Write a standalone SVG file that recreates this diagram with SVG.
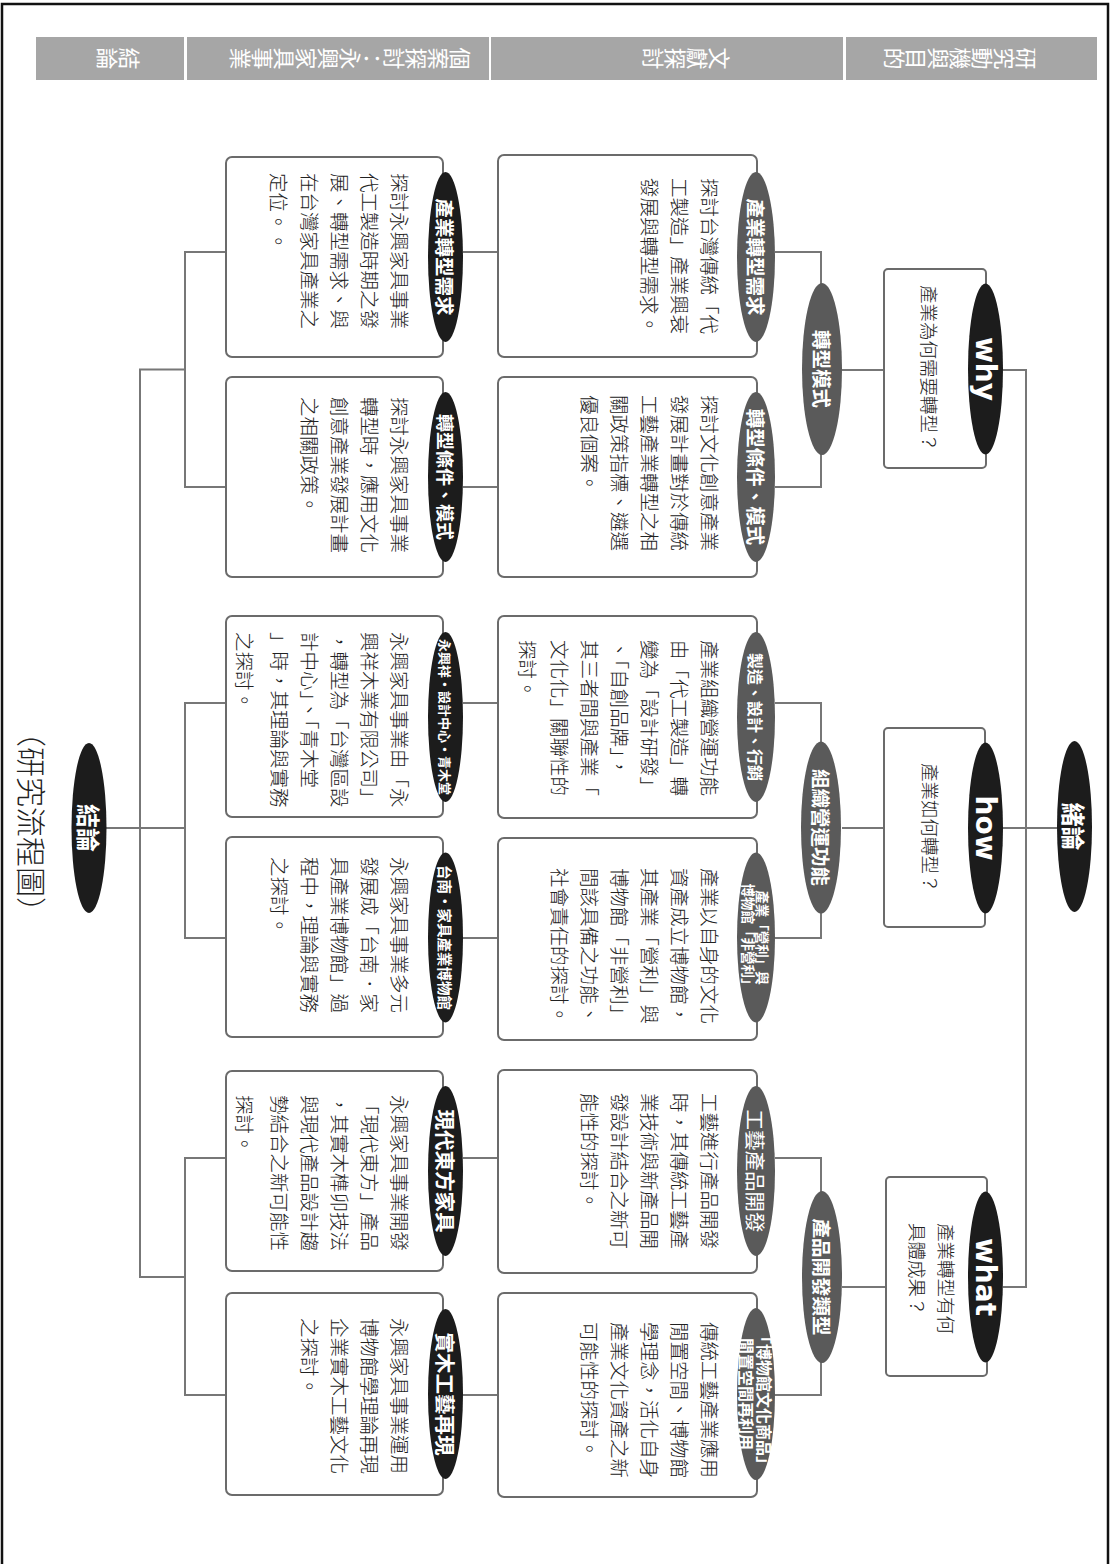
<svg xmlns="http://www.w3.org/2000/svg" width="1114" height="1564" viewBox="0 0 1114 1564">
<style>
.frame{fill:none;stroke:#111;stroke-width:2.5}
.hdr{fill:#a6a6a6}
.hd{font-family:"Noto Sans CJK TC","Noto Sans CJK SC",sans-serif;font-size:22px;fill:#fff;writing-mode:vertical-rl;text-anchor:middle}
.box{fill:#fff;stroke:#6b6b6b;stroke-width:2}
.con{fill:none;stroke:#777;stroke-width:2}
.ek{fill:#1c1c1c}
.eg{fill:#5a5a5a}
.t{font-family:"Noto Sans CJK TC","Noto Sans CJK SC",sans-serif;font-size:19.5px;font-weight:300;fill:#222;dominant-baseline:central}
.q{font-family:"Noto Sans CJK TC","Noto Sans CJK SC",sans-serif;font-size:18.5px;font-weight:300;fill:#222;dominant-baseline:central}
.et{font-family:"Noto Sans CJK TC","Noto Sans CJK SC",sans-serif;font-size:19.5px;fill:#fff;font-weight:bold;text-anchor:middle;dominant-baseline:central}
.en{font-family:"DejaVu Sans",sans-serif;font-size:28px;fill:#fff;font-weight:bold;text-anchor:middle;dominant-baseline:central}
.ttl{font-family:"Noto Sans CJK TC","Noto Sans CJK SC",sans-serif;font-size:30px;font-weight:300;fill:#222;text-anchor:middle;dominant-baseline:central}
</style>
<rect class="frame" x="2" y="4" width="1106" height="1600"/>

<g id="header">
<rect class="hdr" x="36" y="37" width="148" height="43"/>
<rect class="hdr" x="187" y="37" width="302" height="43"/>
<rect class="hdr" x="491" y="37" width="352" height="43"/>
<rect class="hdr" x="846" y="37" width="251" height="43"/>
<text class="hd" transform="translate(118,58.5) rotate(90)">結論</text>
<text class="hd" transform="translate(350,58.5) rotate(90)">個案探討：永興家具事業</text>
<text class="hd" transform="translate(686,58.5) rotate(90)">文獻探討</text>
<text class="hd" transform="translate(960,58.5) rotate(90)">研究動機與目的</text>
</g>

<g id="connectors">
<polyline class="con" points="1003,370 1026,370 1026,1287 1003,1287"/>
<line class="con" x1="1003" y1="828" x2="1057" y2="828"/>
<line class="con" x1="842" y1="370" x2="884" y2="370"/>
<line class="con" x1="842" y1="828" x2="884" y2="828"/>
<line class="con" x1="842" y1="1287" x2="886" y2="1287"/>
<polyline class="con" points="775,252 821,252 821,487 775,487"/>
<polyline class="con" points="775,703 821,703 821,938 775,938"/>
<polyline class="con" points="775,1158 821,1158 821,1395 775,1395"/>
<line class="con" x1="463" y1="252" x2="498" y2="252"/>
<line class="con" x1="463" y1="487" x2="498" y2="487"/>
<line class="con" x1="463" y1="703" x2="498" y2="703"/>
<line class="con" x1="463" y1="938" x2="498" y2="938"/>
<line class="con" x1="463" y1="1158" x2="498" y2="1158"/>
<line class="con" x1="463" y1="1395" x2="498" y2="1395"/>
<polyline class="con" points="226,252 185,252 185,487 226,487"/>
<polyline class="con" points="226,703 185,703 185,938 226,938"/>
<polyline class="con" points="226,1158 185,1158 185,1395 226,1395"/>
<polyline class="con" points="185,369.5 140,369.5 140,1277 185,1277"/>
<line class="con" x1="106" y1="828" x2="185" y2="828"/>
</g>

<g id="intro">
<ellipse class="ek" cx="1074.5" cy="826.5" rx="17.5" ry="85.5"/>
<text class="et" style="font-size:24px" transform="translate(1074.5,826.5) rotate(90)">緒論</text>
</g>

<g id="why">
<rect class="box" x="884" y="269" width="102" height="199" rx="4"/>
<text class="q" transform="translate(930,285) rotate(90)">產業為何需要轉型？</text>
<ellipse class="ek" cx="985.5" cy="369" rx="17.5" ry="85.5"/>
<text class="en" transform="translate(985.5,369) rotate(90)">why</text>
</g>
<g id="how">
<rect class="box" x="884" y="728" width="101" height="199" rx="4"/>
<text class="q" transform="translate(931,763) rotate(90)">產業如何轉型？</text>
<ellipse class="ek" cx="985.5" cy="828" rx="17.5" ry="85.5"/>
<text class="en" transform="translate(985.5,828) rotate(90)">how</text>
</g>
<g id="what">
<rect class="box" x="886" y="1177" width="101" height="199" rx="4"/>
<text class="q" transform="translate(947,1223) rotate(90)">產業轉型有何</text>
<text class="q" transform="translate(918,1223) rotate(90)">具體成果？</text>
<ellipse class="ek" cx="985.5" cy="1277" rx="17.5" ry="85.5"/>
<text class="en" transform="translate(985.5,1277) rotate(90)">what</text>
</g>

<g id="mid1">
<ellipse class="eg" cx="822" cy="369" rx="20" ry="86"/>
<text class="et" transform="translate(822,369) rotate(90)">轉型模式</text>
</g>
<g id="mid2">
<ellipse class="eg" cx="821" cy="827.5" rx="20" ry="86"/>
<text class="et" transform="translate(821,827.5) rotate(90)">組織營運功能</text>
</g>
<g id="mid3">
<ellipse class="eg" cx="822" cy="1277" rx="20" ry="86"/>
<text class="et" transform="translate(822,1277) rotate(90)">產品開發類型</text>
</g>

<g id="lit1">
<rect class="box" x="498" y="155" width="259" height="202" rx="6"/>
<g transform="translate(710,178) rotate(90)">
<text class="t" x="0" y="0">探討台灣傳統「代</text>
<text class="t" x="0" y="30">工製造」產業興衰</text>
<text class="t" x="0" y="60">發展與轉型需求。</text>
</g>
<ellipse class="eg" cx="756" cy="257" rx="19" ry="85"/>
<text class="et" transform="translate(756,257) rotate(90)">產業轉型需求</text>
</g>
<g id="lit2">
<rect class="box" x="498" y="377" width="259" height="200" rx="6"/>
<g transform="translate(710,395) rotate(90)">
<text class="t" x="0" y="0">探討文化創意產業</text>
<text class="t" x="0" y="30">發展計畫對於傳統</text>
<text class="t" x="0" y="60">工藝產業轉型之相</text>
<text class="t" x="0" y="90">關政策指標、遴選</text>
<text class="t" x="0" y="120">優良個案。</text>
</g>
<ellipse class="eg" cx="756" cy="477" rx="19" ry="85"/>
<text class="et" transform="translate(756,477) rotate(90)">轉型條件、模式</text>
</g>
<g id="lit3">
<rect class="box" x="498" y="616" width="259" height="202" rx="6"/>
<g transform="translate(710,640) rotate(90)">
<text class="t" x="0" y="0">產業組織營運功能</text>
<text class="t" x="0" y="30">由「代工製造」轉</text>
<text class="t" x="0" y="60">變為「設計研發」</text>
<text class="t" x="0" y="90">、「自創品牌」，</text>
<text class="t" x="0" y="120">其三者間與產業「</text>
<text class="t" x="0" y="150">文化化」關聯性的</text>
<text class="t" x="0" y="182">探討。</text>
</g>
<ellipse class="eg" cx="756" cy="717" rx="19" ry="85"/>
<text class="et" style="font-size:16px" transform="translate(756,717) rotate(90)">製造、設計、行銷</text>
</g>
<g id="lit4">
<rect class="box" x="498" y="838" width="259" height="202" rx="6"/>
<g transform="translate(710,868) rotate(90)">
<text class="t" x="0" y="0">產業以自身的文化</text>
<text class="t" x="0" y="30">資產成立博物館，</text>
<text class="t" x="0" y="60">其產業「營利」與</text>
<text class="t" x="0" y="90">博物館「非營利」</text>
<text class="t" x="0" y="120">間該具備之功能、</text>
<text class="t" x="0" y="150">社會責任的探討。</text>
</g>
<ellipse class="eg" cx="756" cy="937.5" rx="19" ry="85"/>
<text class="et" style="font-size:13.5px" transform="translate(756,937.5) rotate(90)" y="-7">產業「營利」與</text>
<text class="et" style="font-size:13.5px" transform="translate(756,937.5) rotate(90)" y="7">博物館「非營利」</text>
</g>
<g id="lit5">
<rect class="box" x="498" y="1070" width="259" height="203" rx="6"/>
<g transform="translate(710,1093) rotate(90)">
<text class="t" x="0" y="0">工藝進行產品開發</text>
<text class="t" x="0" y="30">時，其傳統工藝產</text>
<text class="t" x="0" y="60">業技術與新產品開</text>
<text class="t" x="0" y="90">發設計結合之新可</text>
<text class="t" x="0" y="120">能性的探討。</text>
</g>
<ellipse class="eg" cx="756" cy="1171" rx="19" ry="85"/>
<text class="et" style="font-size:20.5px;font-weight:normal" transform="translate(756,1171) rotate(90)">工藝產品開發</text>
</g>
<g id="lit6">
<rect class="box" x="498" y="1293" width="259" height="204" rx="6"/>
<g transform="translate(710,1322) rotate(90)">
<text class="t" x="0" y="0">傳統工藝產業應用</text>
<text class="t" x="0" y="30">閒置空間、博物館</text>
<text class="t" x="0" y="60">學理念，活化自身</text>
<text class="t" x="0" y="90">產業文化資產之新</text>
<text class="t" x="0" y="120">可能性的探討。</text>
</g>
<ellipse class="eg" cx="756" cy="1394" rx="19" ry="86"/>
<text class="et" style="font-size:16px" transform="translate(756,1400) rotate(90)" y="-9">「博物館文化商品」</text>
<text class="et" style="font-size:16px" transform="translate(756,1394) rotate(90)" y="9">閒置空間再利用</text>
</g>

<g id="case1">
<rect class="box" x="226" y="157" width="217" height="200" rx="6"/>
<g transform="translate(400,173) rotate(90)">
<text class="t" x="0" y="0">探討永興家具事業</text>
<text class="t" x="0" y="30">代工製造時期之發</text>
<text class="t" x="0" y="60">展、轉型需求、與</text>
<text class="t" x="0" y="90">在台灣家具產業之</text>
<text class="t" x="0" y="121">定位。。</text>
</g>
<ellipse class="ek" cx="445.5" cy="257" rx="17.5" ry="85"/>
<text class="et" transform="translate(445.5,257) rotate(90)">產業轉型需求</text>
</g>
<g id="case2">
<rect class="box" x="226" y="377" width="217" height="200" rx="6"/>
<g transform="translate(400,397) rotate(90)">
<text class="t" x="0" y="0">探討永興家具事業</text>
<text class="t" x="0" y="30">轉型時，應用文化</text>
<text class="t" x="0" y="60">創意產業發展計畫</text>
<text class="t" x="0" y="90">之相關政策。</text>
</g>
<ellipse class="ek" cx="445.5" cy="477" rx="17.5" ry="85"/>
<text class="et" style="font-size:18px" transform="translate(445.5,477) rotate(90)">轉型條件、模式</text>
</g>
<g id="case3">
<rect class="box" x="226" y="616" width="217" height="201" rx="6"/>
<g transform="translate(400,632) rotate(90)">
<text class="t" x="0" y="0">永興家具事業由「永</text>
<text class="t" x="0" y="30">興祥木業有限公司」</text>
<text class="t" x="0" y="60">，轉型為「台灣區設</text>
<text class="t" x="0" y="90">計中心」、「青木堂</text>
<text class="t" x="0" y="120">」時，其理論與實務</text>
<text class="t" x="0" y="155">之探討。</text>
</g>
<ellipse class="ek" cx="445.5" cy="717" rx="17.5" ry="85"/>
<text class="et" style="font-size:13px" transform="translate(445.5,717) rotate(90)">永興祥・設計中心・青木堂</text>
</g>
<g id="case4">
<rect class="box" x="226" y="837" width="217" height="200" rx="6"/>
<g transform="translate(400,857) rotate(90)">
<text class="t" x="0" y="0">永興家具事業多元</text>
<text class="t" x="0" y="30">發展成「台南．家</text>
<text class="t" x="0" y="60">具產業博物館」過</text>
<text class="t" x="0" y="90">程中，理論與實務</text>
<text class="t" x="0" y="120">之探討。</text>
</g>
<ellipse class="ek" cx="445.5" cy="937.5" rx="17.5" ry="85"/>
<text class="et" style="font-size:14.5px" transform="translate(445.5,937.5) rotate(90)">台南・家具產業博物館</text>
</g>
<g id="case5">
<rect class="box" x="226" y="1071" width="217" height="200" rx="6"/>
<g transform="translate(400,1095) rotate(90)">
<text class="t" x="0" y="0">永興家具事業開發</text>
<text class="t" x="0" y="30">「現代東方」產品</text>
<text class="t" x="0" y="60">，其實木榫卯技法</text>
<text class="t" x="0" y="90">與現代產品設計趨</text>
<text class="t" x="0" y="120">勢結合之新可能性</text>
<text class="t" x="0" y="155">探討。</text>
</g>
<ellipse class="ek" cx="445.5" cy="1171" rx="17.5" ry="85"/>
<text class="et" style="font-size:20.5px" transform="translate(445.5,1171) rotate(90)">現代東方家具</text>
</g>
<g id="case6">
<rect class="box" x="226" y="1293" width="217" height="202" rx="6"/>
<g transform="translate(400,1318) rotate(90)">
<text class="t" x="0" y="0">永興家具事業運用</text>
<text class="t" x="0" y="30">博物館學理論再現</text>
<text class="t" x="0" y="60">企業實木工藝文化</text>
<text class="t" x="0" y="90">之探討。</text>
</g>
<ellipse class="ek" cx="445.5" cy="1394" rx="17.5" ry="85"/>
<text class="et" style="font-size:20.5px" transform="translate(445.5,1394) rotate(90)">實木工藝再現</text>
</g>

<g id="conclusion">
<ellipse class="ek" cx="89" cy="828" rx="17.5" ry="85"/>
<text class="et" style="font-size:24px" transform="translate(89,828) rotate(90)">結論</text>
</g>
<text class="ttl" transform="translate(33,822) rotate(90)">（研究流程圖）</text>
</svg>
